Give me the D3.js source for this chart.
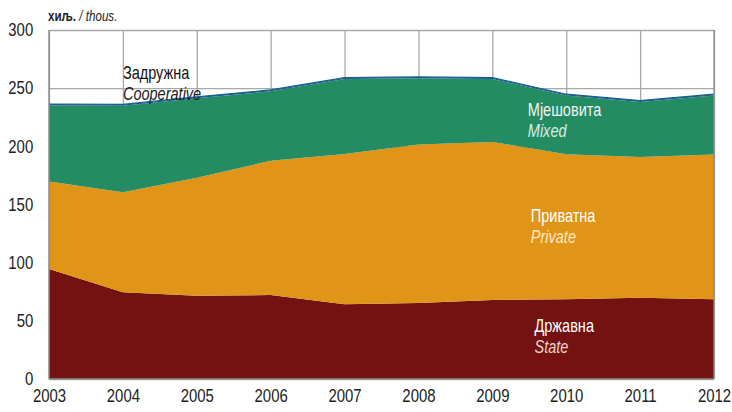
<!DOCTYPE html>
<meta charset="utf-8">
<script src="https://d3js.org/d3.v7.min.js"></script>
<style>
    body { margin: 0; background: #fff; }
    text { font-family: "Liberation Sans", Arial, sans-serif; }
    .tick text { font-size: 18px; fill: #222; }
    .grid line { stroke: #a8a8a8; stroke-width: 1.3px; }
</style>
<div id="viz"></div>
<script>
// thousands of employees by ownership type
var years       = [2003, 2004, 2005, 2006, 2007, 2008, 2009, 2010, 2011, 2012];
var state       = [94.6, 74.5, 71.6, 72.2, 64.2, 65.3, 67.9, 68.5, 69.9, 68.5];
var privat      = [75.1, 86.0, 101.4, 115.4, 129.3, 136.2, 135.9, 124.7, 121.0, 124.4];
var mixed       = [65.5, 74.3, 68.3, 59.7, 64.3, 57.0, 54.0, 50.4, 47.2, 50.7];
var cooperative = [1.2, 1.2, 1.2, 1.2, 1.2, 1.2, 1.2, 1.2, 1.2, 1.2];
var yTicks      = [0, 50, 100, 150, 200, 250, 300];

var keys   = ['state', 'privat', 'mixed', 'cooperative'];
var colors = {state: '#731210', privat: '#e09518', mixed: '#248c63', cooperative: '#1a5f8e'};
var narrow = 'scale(0.83,1)';

var rows = years.map(function(y, i) {
    return {year: y, state: state[i], privat: privat[i], mixed: mixed[i], cooperative: cooperative[i]};
});

var margin = {top: 30, right: 18, bottom: 33, left: 49};
var width  = 732 - margin.left - margin.right;
var height = 412 - margin.top - margin.bottom;

var root = d3.select('#viz').append('svg')
    .attr('width', 732)
    .attr('height', 412);

var svg = root.append('g')
    .attr('transform', 'translate(' + margin.left + ',' + margin.top + ')');

var x = d3.scaleLinear().domain([2003, 2012]).range([0, width]);
var y = d3.scaleLinear().domain([0, 300]).range([height, 0]);

// grid
svg.append('g').attr('class', 'grid')
    .call(d3.axisBottom(x).tickValues(years).tickSize(height).tickFormat(''))
    .select('.domain').remove();
svg.append('g').attr('class', 'grid')
    .call(d3.axisRight(y).tickValues(yTicks).tickSize(width).tickFormat(''))
    .select('.domain').remove();

var stack = d3.stack().keys(keys)(rows);

var area = d3.area()
    .x(function(d) { return x(d.data.year); })
    .y0(function(d) { return y(d[0]); })
    .y1(function(d) { return y(d[1]); });

svg.selectAll('.layer')
    .data(stack)
    .enter().append('path')
    .attr('class', 'layer')
    .attr('fill', function(d) { return colors[d.key]; })
    .attr('d', area);

// thin cooperative band edge
svg.append('path')
    .datum(stack[3])
    .attr('fill', 'none')
    .attr('stroke', colors.cooperative)
    .attr('stroke-width', 1.2)
    .attr('d', d3.line()
        .x(function(d) { return x(d.data.year); })
        .y(function(d) { return y(d[1]); }));

// frame
svg.append('line').attr('x1', 0).attr('x2', 0).attr('y1', 0).attr('y2', height)
    .attr('stroke', '#8c8c8c').attr('stroke-width', 1.5);
svg.append('line').attr('x1', 0).attr('x2', width).attr('y1', height).attr('y2', height)
    .attr('stroke', '#8c8c8c').attr('stroke-width', 1.5);
svg.append('line').attr('x1', width).attr('x2', width).attr('y1', 0).attr('y2', height)
    .attr('stroke', '#8c8c8c').attr('stroke-width', 1.3);

// axes labels
svg.append('g')
    .call(d3.axisLeft(y).tickValues(yTicks).tickSize(0).tickPadding(19))
    .call(function(g) { g.select('.domain').remove(); })
    .selectAll('text').attr('transform', narrow);
svg.append('g')
    .attr('transform', 'translate(0,' + height + ')')
    .call(d3.axisBottom(x).tickValues(years).tickSize(0).tickPadding(10).tickFormat(d3.format('d')))
    .call(function(g) { g.select('.domain').remove(); })
    .selectAll('text').attr('transform', narrow);

// unit
var unit = root.append('text')
    .attr('transform', 'translate(48,21) ' + narrow)
    .style('font-size', '14px').attr('fill', '#222');
unit.append('tspan').style('font-weight', 'bold').text('хиљ.');
unit.append('tspan').style('font-style', 'italic').text(' / thous.');

// series labels
var labels = [
    {sr: 'Задружна', en: 'Cooperative', year: 2004, val: 258, fill: '#111', fillEn: '#222'},
    {sr: 'Мјешовита', en: 'Mixed', year: 2009.48, val: 226, fill: '#f2f2f2', fillEn: '#d8eee4'},
    {sr: 'Приватна', en: 'Private', year: 2009.52, val: 135, fill: '#ffffff', fillEn: '#fbe8c4'},
    {sr: 'Државна', en: 'State', year: 2009.57, val: 40, fill: '#ffffff', fillEn: '#f0d0cc'}
];
labels.forEach(function(l) {
    var g = svg.append('g')
        .attr('transform', 'translate(' + x(l.year) + ',' + y(l.val) + ')');
    g.append('text')
        .attr('transform', narrow)
        .style('font-size', '17.5px').attr('fill', l.fill)
        .text(l.sr);
    g.append('text')
        .attr('transform', 'translate(0,21) ' + narrow)
        .style('font-size', '17.5px').style('font-style', 'italic').attr('fill', l.fillEn)
        .text(l.en);
});
</script>
